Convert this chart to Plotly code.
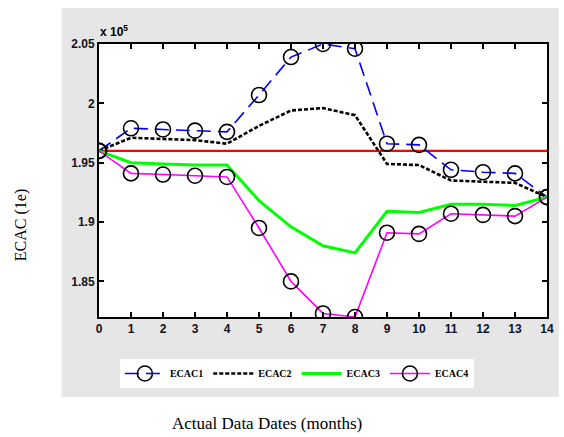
import plotly.graph_objects as go

months = list(range(15))
baseline = [1.96e5] * 15
ecac1 = [1.960, 1.979, 1.978, 1.977, 1.976, 2.007, 2.039, 2.050, 2.046, 1.966, 1.965, 1.944, 1.942, 1.941, 1.921]
ecac2 = [1.960, 1.971, 1.970, 1.969, 1.966, 1.981, 1.994, 1.996, 1.990, 1.949, 1.948, 1.935, 1.934, 1.933, 1.921]
ecac3 = [1.960, 1.950, 1.949, 1.948, 1.948, 1.918, 1.896, 1.880, 1.874, 1.909, 1.908, 1.915, 1.915, 1.914, 1.921]
ecac4 = [1.960, 1.941, 1.940, 1.939, 1.938, 1.895, 1.850, 1.823, 1.820, 1.891, 1.890, 1.907, 1.906, 1.905, 1.921]
scale = 1e5
ytick_vals = [1.85, 1.9, 1.95, 2.0, 2.05]
ytick_text = ["1.85", "1.9", "1.95", "2", "2.05"]

def sc(v):
    return [x * scale for x in v]

circle = dict(symbol="circle-open", size=15, color="black", line=dict(width=1.6, color="black"))

fig = go.Figure()
fig.add_trace(go.Scatter(x=months, y=baseline, mode="lines", line=dict(color="#ff0000", width=2.2),
                         showlegend=False, hoverinfo="skip"))
fig.add_trace(go.Scatter(x=months, y=sc(ecac1), mode="lines+markers", name="ECAC1",
                         line=dict(color="#0000ff", width=1.6, dash="14px,7px"), marker=circle))
fig.add_trace(go.Scatter(x=months, y=sc(ecac2), mode="lines", name="ECAC2",
                         line=dict(color="black", width=2.6, dash="4px,2px")))
fig.add_trace(go.Scatter(x=months, y=sc(ecac3), mode="lines", name="ECAC3",
                         line=dict(color="#00ff00", width=3)))
fig.add_trace(go.Scatter(x=months, y=sc(ecac4), mode="lines+markers", name="ECAC4",
                         line=dict(color="#ff00ff", width=1.6), marker=circle))

W, H = 564, 437
L, R, T, B = 99, 10, 44, 120
pw, ph = W - L - R, H - T - B
def px(x):
    return (x - L) / pw
def py(y):
    return (H - B - y) / ph

fig.add_shape(type="rect", xref="paper", yref="paper", x0=px(61), x1=px(566), y0=py(397), y1=py(8),
              fillcolor="#e6e6e6", line=dict(width=0), layer="below")
fig.add_shape(type="rect", xref="paper", yref="paper", x0=0, x1=1, y0=0, y1=1,
              fillcolor="white", line=dict(width=0), layer="below")

axis_common = dict(showgrid=False, zeroline=False, showline=True, linecolor="black", linewidth=2,
                   mirror="ticks", ticks="inside", ticklen=5, tickwidth=2, tickcolor="black",
                   tickfont=dict(family="Liberation Sans", size=12, color="#111122", weight="bold"))

fig.update_xaxes(range=[0, 14], tickvals=months, **axis_common)
fig.update_yaxes(range=[1.82 * scale, 2.05 * scale], tickvals=sc(ytick_vals), ticktext=ytick_text, **axis_common)

fig.add_annotation(xref="paper", yref="paper", x=px(98), y=py(31), text="x 10<sup>5</sup>", showarrow=False,
                   xanchor="left", yanchor="middle",
                   font=dict(family="Liberation Sans", size=12, color="black", weight="bold"))
fig.add_annotation(xref="paper", yref="paper", x=px(20), y=py(225), text="ECAC (1e)", textangle=-90,
                   showarrow=False, xanchor="center", yanchor="middle",
                   font=dict(family="Liberation Serif", size=16, color="black"))
fig.add_annotation(xref="paper", yref="paper", x=px(270), y=py(423), text="Actual Data Dates (months)",
                   showarrow=False, xanchor="center", yanchor="middle",
                   font=dict(family="Liberation Serif", size=17, color="black"))

fig.update_layout(
    width=W, height=H, margin=dict(l=L, r=R, t=T, b=B),
    paper_bgcolor="white", plot_bgcolor="white",
    legend=dict(orientation="h", x=px(300), xanchor="center", y=py(359), yanchor="top",
                bgcolor="white", font=dict(family="Liberation Serif", size=10, color="black", weight="bold"),
                itemwidth=40, tracegroupgap=0, entrywidth=0),
)

fig.write_html("out.html")
